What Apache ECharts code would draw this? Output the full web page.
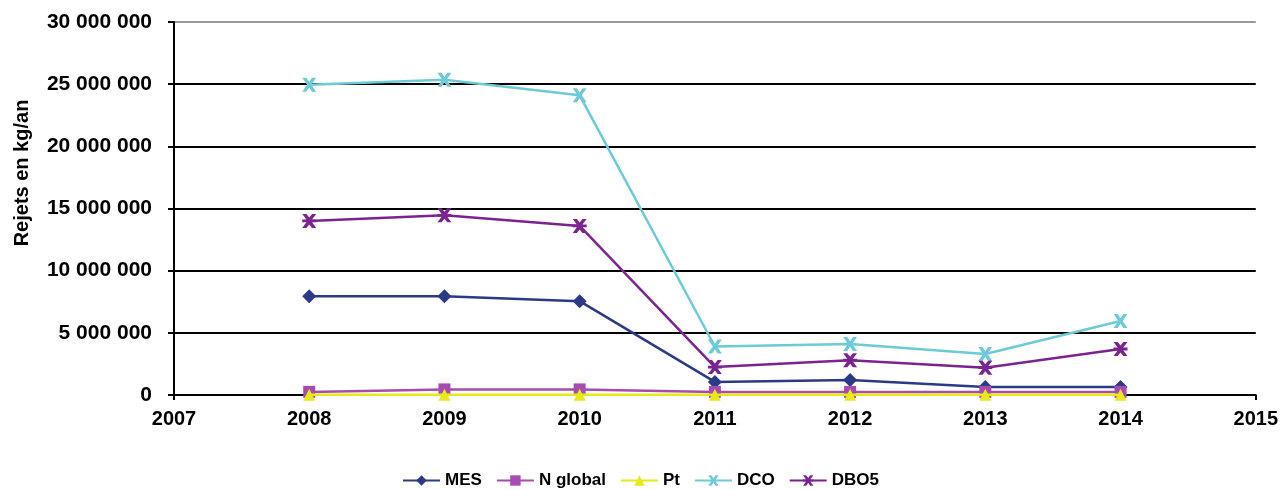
<!DOCTYPE html>
<html><head><meta charset="utf-8">
<script src="https://cdn.jsdelivr.net/npm/echarts@6/dist/echarts.min.js"></script>
<style>html,body{margin:0;padding:0;background:#fff}#c{width:1281px;height:490px}</style>
</head><body><div id="c"></div>
<script>
const years = [2008, 2009, 2010, 2011, 2012, 2013, 2014];
const mes = [7950000, 7950000, 7550000, 1050000, 1200000, 650000, 650000];
const nGlobal = [250000, 450000, 450000, 250000, 250000, 250000, 250000];
const pt = [20000, 20000, 20000, 20000, 20000, 20000, 20000];
const dco = [24950000, 25350000, 24100000, 3900000, 4100000, 3300000, 5950000];
const dbo5 = [14000000, 14450000, 13600000, 2250000, 2800000, 2200000, 3700000];
const seriesNames = ['MES', 'N global', 'Pt', 'DCO', 'DBO5'];
const colors = ['#2B3A85', '#A64CB0', '#E8E81A', '#6CCBD6', '#7B2491'];

const FONT = '"Liberation Sans", Arial, sans-serif';
const pairs = arr => years.map((y, i) => [y, arr[i]]);
const xPath = 'path://M0,0 L3,0 L5,3 L7,0 L10,0 L6.5,5 L10,10 L7,10 L5,7 L3,10 L0,10 L3.5,5 Z';
const starPath = 'path://M0,0 L3,0 L5,2.5 L7,0 L10,0 L7,4 L10,4 L10,6 L7,6 L10,10 L7,10 L5,7.5 L3,10 L0,10 L3,6 L0,6 L0,4 L3,4 Z';
const symbols = ['diamond', 'rect', 'triangle', xPath, starPath];
const sizes = [14, 12, 12, 14, 14];
const datas = [mes, nGlobal, pt, dco, dbo5];

const chart = echarts.init(document.getElementById('c'));
chart.setOption({
  animation: false,
  grid: {left: 174, right: 21, top: 22, bottom: 95},
  graphic: [{
    type: 'text', x: 22, y: 173, rotation: Math.PI / 2,
    style: {text: 'Rejets en kg/an', font: 'bold 20px ' + FONT, fill: '#000', textAlign: 'center', textVerticalAlign: 'middle'}
  }],
  legend: {
    top: 467, left: 'center', itemGap: 14, itemWidth: 37, itemHeight: 13,
    textStyle: {fontFamily: FONT, fontWeight: 'bold', fontSize: 17, color: '#000'},
    data: seriesNames
  },
  xAxis: {
    type: 'value', min: 2007, max: 2015, interval: 1,
    axisLine: {show: true, lineStyle: {color: '#000', width: 2}},
    axisTick: {show: true, length: 5, lineStyle: {color: '#000', width: 2}},
    splitLine: {show: false},
    axisLabel: {fontFamily: FONT, fontWeight: 'bold', fontSize: 20, color: '#000', margin: 14, formatter: v => String(v)}
  },
  yAxis: {
    type: 'value', min: 0, max: 30000000, interval: 5000000,
    axisLine: {show: true, lineStyle: {color: '#000', width: 2}},
    axisTick: {show: true, length: 6, lineStyle: {color: '#000', width: 2}},
    splitLine: {show: true, lineStyle: {color: ['#000', '#000', '#000', '#000', '#000', '#000', '#999'], width: 2}},
    axisLabel: {fontFamily: FONT, fontWeight: 'bold', fontSize: 21, color: '#000', margin: 22,
      formatter: v => String(v).replace(/\B(?=(\d{3})+(?!\d))/g, ' ')}
  },
  series: seriesNames.map((n, i) => ({
    name: n, type: 'line', data: pairs(datas[i]),
    symbol: symbols[i], symbolSize: sizes[i], showAllSymbol: true,
    lineStyle: {color: colors[i], width: 2.5},
    itemStyle: {color: colors[i]},
    z: [2, 3, 4, 5, 6][i]
  }))
});
</script></body></html>
